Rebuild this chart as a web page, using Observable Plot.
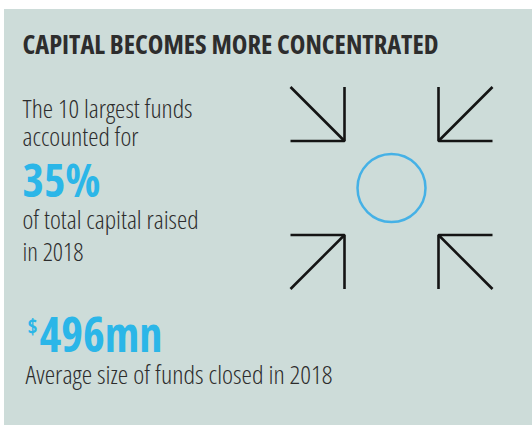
<!DOCTYPE html>
<html>
<head>
<meta charset="utf-8">
<script src="https://cdn.jsdelivr.net/npm/d3@7"></script>
<script src="https://cdn.jsdelivr.net/npm/@observablehq/plot@0.6"></script>
<style>
  html, body { margin: 0; padding: 0; background: #ffffff; }
  #chart svg { display: block; }
</style>
</head>
<body>
<div id="chart"></div>
<script>
// ---- content ----
const titleText = "CAPITAL BECOMES MORE CONCENTRATED";
const shareIntro = ["The 10 largest funds", "accounted for"];
const shareValue = 35;            // percent of total capital raised
const shareOutro = ["of total capital raised", "in 2018"];
const currencySymbol = "$";
const avgFundSize = 496;          // US$ millions
const avgUnit = "mn";
const avgLabel = "Average size of funds closed in 2018";
const arrowQuadrants = [[-1, -1], [1, -1], [-1, 1], [1, 1]]; // four arrows pointing inward

// ---- layout & style ----
const W = 532, H = 425;
const panel = {x1: 4, y1: 9, x2: 532, y2: 425};
const bg = "#cddcd9", ink = "#2d2d2d", blue = "#2bb6e8", ring = "#45b1e6";
const font = "'Open Sans', 'DejaVu Sans', sans-serif";
const icon = {cx: 391, cy: 187.5, gap: 47, arm: 54, r: 34};
const L = {
  title: {x: 22, y: 53, size: 26, width: 416},
  intro: {x: 22, y: [117, 145]},
  share: {x: 22, y: 196, size: 46, width: 78},
  outro: {x: 22, y: [228, 260]},
  cur: {x: 27, y: 333, size: 21, width: 10},
  avg: {x: 39, y: 351, size: 48, width: 123},
  avgLbl: {x: 25, y: 383},
  bodySize: 26
};
const widths = new Map([
  [titleText, L.title.width],
  [shareIntro[0], 170], [shareIntro[1], 116],
  [shareValue + "%", L.share.width],
  [shareOutro[0], 176], [shareOutro[1], 61],
  [currencySymbol, L.cur.width],
  [avgFundSize + avgUnit, L.avg.width],
  [avgLabel, 307]
]);

// ---- derived mark data ----
const lightLines = [
  ...shareIntro.map((t, i) => ({t, x: L.intro.x, y: L.intro.y[i]})),
  ...shareOutro.map((t, i) => ({t, x: L.outro.x, y: L.outro.y[i]})),
  {t: avgLabel, x: L.avgLbl.x, y: L.avgLbl.y}
];
const arrowArms = arrowQuadrants.flatMap(([sx, sy], k) => {
  const cx = icon.cx + sx * icon.gap, cy = icon.cy + sy * icon.gap;
  return [
    {k, x: cx, y: cy + sy * icon.arm},
    {k, x: cx, y: cy},
    {k, x: cx + sx * icon.arm, y: cy}
  ];
});
const arrowShafts = arrowQuadrants.map(([sx, sy]) => {
  const cx = icon.cx + sx * icon.gap, cy = icon.cy + sy * icon.gap;
  return {x1: cx + sx * icon.arm, y1: cy + sy * icon.arm, x2: cx, y2: cy};
});

const textOpts = {textAnchor: "start", lineAnchor: "bottom", fontFamily: font};

const chart = Plot.plot({
  width: W, height: H, margin: 0,
  x: {domain: [0, W], range: [0, W], axis: null},
  y: {domain: [0, H], range: [0, H], axis: null},
  style: {background: "#ffffff", fontStretch: "condensed", overflow: "visible"},
  marks: [
    Plot.rect([panel], {x1: "x1", x2: "x2", y1: "y1", y2: "y2", fill: bg}),
    Plot.text([titleText], {...textOpts, x: () => L.title.x, y: () => L.title.y, text: d => d,
      fontSize: L.title.size, fontWeight: 700, fill: ink}),
    Plot.text(lightLines, {...textOpts, x: "x", y: "y", text: "t",
      fontSize: L.bodySize, fontWeight: 300, fill: ink}),
    Plot.text([shareValue], {...textOpts, x: () => L.share.x, y: () => L.share.y, text: d => d + "%",
      fontSize: L.share.size, fontWeight: 700, fill: blue}),
    Plot.text([currencySymbol], {...textOpts, x: () => L.cur.x, y: () => L.cur.y, text: d => d,
      fontSize: L.cur.size, fontWeight: 700, fill: blue}),
    Plot.text([avgFundSize], {...textOpts, x: () => L.avg.x, y: () => L.avg.y, text: d => d + avgUnit,
      fontSize: L.avg.size, fontWeight: 700, fill: blue}),
    Plot.line(arrowArms, {x: "x", y: "y", z: "k", stroke: "#141414", strokeWidth: 2.6,
      strokeLinejoin: "miter", strokeLinecap: "butt"}),
    Plot.link(arrowShafts, {x1: "x1", y1: "y1", x2: "x2", y2: "y2", stroke: "#141414", strokeWidth: 2.6}),
    Plot.dot([icon], {x: "cx", y: "cy", r: icon.r, stroke: ring, strokeWidth: 2.5, fill: "none"})
  ]
});
document.getElementById("chart").appendChild(chart);

// fit each text run to the width it occupies in the reference
d3.select(chart).selectAll("text").each(function () {
  const w = widths.get(this.textContent);
  if (w) {
    this.setAttribute("textLength", w);
    this.setAttribute("lengthAdjust", "spacingAndGlyphs");
  }
});
</script>
</body>
</html>
